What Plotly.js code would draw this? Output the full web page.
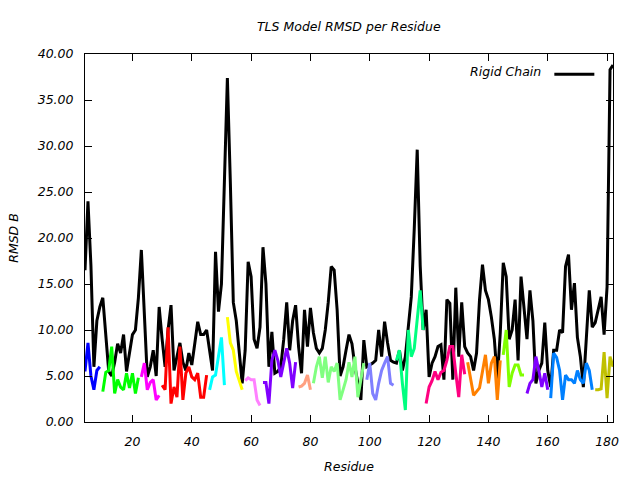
<!DOCTYPE html>
<html>
<head>
<meta charset="utf-8">
<script src="https://cdn.plot.ly/plotly-3.0.1.min.js"></script>
<style>html,body{margin:0;padding:0;background:#fff}#chart{width:640px;height:480px}</style>
</head>
<body>
<div id="chart"></div>
<script>
// Rigid chain RMSD, residues 4..182
const rigidStart = 4;
const rigidChain = [
  16.5,24,17,6,11,12.5,13.5,9,5.5,5,
  6.5,8.5,7.5,9.5,5.5,7.5,9.5,10,13.5,18.7,
  11,4.9,6,7.8,5,12.5,9,6,10,12.7,
  5.6,7,8.6,6.5,5.6,7.5,6.2,8.5,10.9,9.5,
  9.5,10,7.5,5.6,18.5,12,15,25,37.4,26,
  13,11,7.8,4.2,7.8,17.4,15.8,9,8,10.3,
  19,15,6,9.8,5.3,5.5,6,9,13,7.8,
  11,12.7,8.2,5.3,12.2,8.2,12.4,9.7,8,7.5,
  8,10,13,16.9,16.5,12.2,5,6,7.8,9.5,
  8.5,6,4.2,2.4,8.9,6,6.2,6.4,6.7,10,
  7.1,10.9,8.6,6.7,6.5,6.4,7.8,5.6,7.1,10,
  13.6,21,29.6,17,10,12.2,4.9,6.4,7.1,8.2,
  8.4,4.6,13.3,12.9,4.6,14.6,7.1,13,8.2,7.5,
  7.1,5.6,7.5,13.3,17.1,14.3,13.3,11.4,9,4.6,
  9.7,17.3,15.8,9,10,13.3,6.7,15.8,12.5,9,
  14.3,11,4.2,5.6,6.4,10.8,5.6,3.8,7.8,7.8,
  10,9.7,16.9,18.2,12.2,15.1,9.2,7.1,3.8,8.9,
  14.3,10.3,10.8,12.2,13.6,9.5,14.7,38.3,38.8
];

// TLS group segments: first residue and per-residue RMSD
const groupStarts = [4,10,23,30,46,52,58,64,76,81,99,109,119,133,145,153,161,176];
const seg01 = [5.5,8.6,5,3.5,5.6,6];
const seg02 = [3.3,5.4,5.6,8.2,3.1,4.6,3.8,3.5,5.3,3.7,5.3,3.1,4.8];
const seg03 = [4.9,6.4,3.5,4.3,4.6,2.4,2.9];
const seg04 = [4,3.5,10.3,2,3.8,2.7,8.2,2.4,5.3,6,4.9,4.6,5.3,2.7,2.7,5.1];
const seg05 = [3.5,4.9,5.1,7.1,9.2,4];
const seg06 = [11.4,8.6,7.8,5.5,4.5,3.5];
const seg07 = [4.5,4.8,4.6,4.6,2.4,1.8];
const seg08 = [4.3,4.3,2,6.7,7.8,6.7,4.9,6.4,8,6.4,3.7,6.5];
const seg09 = [3.8,3.9,4.2,5.1,3.5];
const seg10 = [4.2,6,7.1,4.8,7.1,4.3,6,5.5,6.4,2.4,3.5,4.6,6.5,4.9,7.1,2.7,4.6,6.4];
const seg11 = [4.6,6.4,3.1,2.4,4.2,5.6,6.4,7.1,4.2,4];
const seg12 = [6.7,7.8,4.2,1.3,10,7.1,8,10.8,14.3,10];
const seg13 = [2,3.8,4.5,5.5,4.6,5.4,5.6,6.7,8.2,8.2,5.3,2.7,7.3,5.2];
const seg14 = [6.5,4.6,2.9,3.3,3.7,5.5,7.3,4.2,6.4,7.1,2.4,6.7];
const seg15 = [7.3,10,3.8,5.3,6.2,6.2,5.1,5.1];
const seg16 = [3.1,4.2,4.6,7.1,5.6,3.8,5.3,3.5];
const seg17 = [2.6,7.5,7,5.6,2.4,5.1,4.6,4.6,4.2,5.6,4.6,4.2,6.4,5.6,3.5];
const seg18 = [3.5,3.5,3.6,7.6,2.6,7.1,6];
const segments = [seg01,seg02,seg03,seg04,seg05,seg06,seg07,seg08,seg09,seg10,seg11,seg12,seg13,seg14,seg15,seg16,seg17,seg18];
const segColors = ['#0000ff','#00ff00','#ff00ff','#ff0000','#00ffff','#ffff00','#ff80ff','#8000ff','#ffa080',
  '#80ff80','#8080ff','#00ff80','#ff0080','#ff8000','#80ff00','#8000ff','#0080ff','#c0c000'];

const xTicks = [20,40,60,80,100,120,140,160,180];
const yTicks = [0,5,10,15,20,25,30,35,40];

function residues(start, n){ const r=[]; for(let i=0;i<n;i++) r.push(start+i); return r; }

const font = {family:'DejaVu Sans', size:12.5, color:'#000', style:'italic'};

const traces = [{
  type:'scatter', mode:'lines', name:'',
  x: residues(rigidStart, rigidChain.length), y: rigidChain,
  line:{color:'#000', width:3}, showlegend:true
}];
segments.forEach((s,i)=>{
  traces.push({type:'scatter', mode:'lines', x: residues(groupStarts[i], s.length), y: s,
    line:{color:segColors[i], width:3}, showlegend:false, hoverinfo:'skip'});
});

const layout = {
  width:640, height:480,
  margin:{l:85, r:27, t:54, b:58},
  paper_bgcolor:'#fff', plot_bgcolor:'#fff',
  font: font,
  title:{text:'TLS Model RMSD per Residue', font:font, x:0.545, xanchor:'center', y:0.945, yanchor:'middle'},
  xaxis:{range:[4,182], tickvals:xTicks, ticktext:xTicks.map(String), ticks:'inside', ticklen:7, tickcolor:'#000',
    showline:true, linecolor:'#000', linewidth:1, mirror:'ticks', showgrid:false, zeroline:false,
    tickfont:font, ticklabelstandoff:8,
    title:{text:'Residue', font:font, standoff:14}},
  yaxis:{range:[0,40], tickvals:yTicks, tickformat:'.2f', ticks:'inside', ticklen:7, tickcolor:'#000',
    showline:true, linecolor:'#000', linewidth:1, mirror:'ticks', showgrid:false, zeroline:false,
    tickfont:font, ticklabelstandoff:8,
    title:{text:'RMSD B', font:font, standoff:16}},
  legend:{x:0.985, xanchor:'right', y:0.985, yanchor:'top', bgcolor:'rgba(0,0,0,0)', borderwidth:0,
    font:font, itemwidth:40, title:{text:'Rigid Chain', side:'left', font:font}},
  showlegend:true
};

Plotly.newPlot('chart', traces, layout, {displayModeBar:false, staticPlot:true});
</script>
</body>
</html>
